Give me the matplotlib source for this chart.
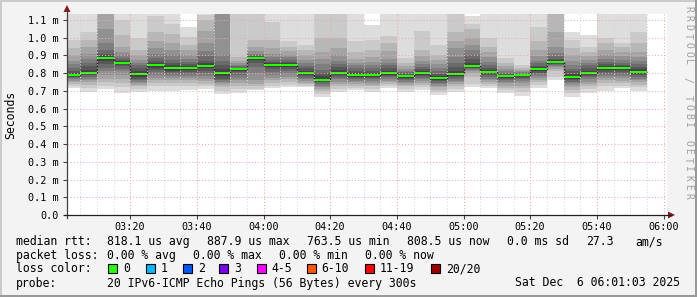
import matplotlib
matplotlib.use('Agg')
import matplotlib.pyplot as plt
from matplotlib.patches import Rectangle, Polygon
import numpy as np

# ---------------- data ----------------
# end timestamp of each 5-minute smokeping bar
bar_end = ['03:05', '03:10', '03:15', '03:20', '03:25', '03:30', '03:35', '03:40',
           '03:45', '03:50', '03:55', '04:00', '04:05', '04:10', '04:15', '04:20',
           '04:25', '04:30', '04:35', '04:40', '04:45', '04:50', '04:55', '05:00',
           '05:05', '05:10', '05:15', '05:20', '05:25', '05:30', '05:35', '05:40',
           '05:45', '05:50', '05:55']

# median rtt per bar (ms)
median_ms = [0.790, 0.803, 0.8879, 0.859, 0.795, 0.846, 0.829, 0.829, 0.840, 0.803,
             0.823, 0.886, 0.848, 0.848, 0.803, 0.7635, 0.803, 0.790, 0.790, 0.803,
             0.784, 0.803, 0.773, 0.795, 0.840, 0.808, 0.784, 0.791, 0.823, 0.863,
             0.780, 0.803, 0.829, 0.829, 0.8085]

# 20 sorted ping rtts per bar (ms); 1.2 = above the visible range
pings_ms = [
    [0.716, 0.727, 0.738, 0.748, 0.757, 0.765, 0.772, 0.778, 0.784, 0.788, 0.792, 0.800, 0.815, 0.830, 0.850, 0.870, 0.900, 0.940, 0.990, 1.2],
    [0.695, 0.715, 0.735, 0.748, 0.760, 0.770, 0.780, 0.788, 0.795, 0.800, 0.806, 0.820, 0.840, 0.860, 0.880, 0.910, 0.950, 0.990, 1.030, 1.2],
    [0.710, 0.730, 0.750, 0.770, 0.790, 0.810, 0.830, 0.850, 0.870, 0.885, 0.891, 0.897, 0.910, 0.930, 0.970, 1.050, 1.2, 1.2, 1.2, 1.2],
    [0.690, 0.720, 0.745, 0.770, 0.790, 0.810, 0.825, 0.840, 0.850, 0.857, 0.861, 0.866, 0.875, 0.885, 0.900, 0.920, 0.950, 1.015, 1.100, 1.2],
    [0.694, 0.710, 0.725, 0.735, 0.745, 0.752, 0.760, 0.770, 0.780, 0.792, 0.798, 0.810, 0.830, 0.845, 0.860, 0.875, 0.900, 0.930, 1.000, 1.2],
    [0.700, 0.725, 0.745, 0.760, 0.775, 0.790, 0.805, 0.820, 0.832, 0.842, 0.850, 0.860, 0.870, 0.885, 0.910, 0.940, 0.980, 1.030, 1.120, 1.2],
    [0.700, 0.725, 0.745, 0.760, 0.772, 0.785, 0.795, 0.805, 0.815, 0.825, 0.833, 0.845, 0.857, 0.875, 0.900, 0.930, 0.970, 1.020, 1.080, 1.2],
    [0.705, 0.728, 0.745, 0.762, 0.775, 0.785, 0.795, 0.808, 0.818, 0.826, 0.832, 0.840, 0.850, 0.865, 0.880, 0.900, 0.930, 0.960, 1.006, 1.059],
    [0.709, 0.725, 0.740, 0.755, 0.770, 0.785, 0.800, 0.815, 0.828, 0.837, 0.843, 0.855, 0.870, 0.895, 0.925, 0.970, 1.040, 1.100, 1.130, 1.2],
    [0.680, 0.700, 0.720, 0.735, 0.745, 0.752, 0.760, 0.770, 0.785, 0.798, 0.808, 0.825, 0.845, 0.870, 0.900, 1.2, 1.2, 1.2, 1.2, 1.2],
    [0.690, 0.710, 0.730, 0.745, 0.760, 0.775, 0.790, 0.805, 0.815, 0.821, 0.825, 0.828, 0.832, 0.838, 0.845, 0.855, 0.870, 0.890, 1.150, 1.2],
    [0.705, 0.713, 0.725, 0.740, 0.760, 0.800, 0.835, 0.860, 0.875, 0.883, 0.889, 0.892, 0.895, 0.900, 0.910, 0.925, 0.950, 0.987, 1.2, 1.2],
    [0.716, 0.730, 0.745, 0.760, 0.775, 0.790, 0.805, 0.822, 0.835, 0.845, 0.851, 0.857, 0.865, 0.875, 0.890, 0.910, 0.940, 0.990, 1.090, 1.2],
    [0.720, 0.735, 0.750, 0.765, 0.780, 0.795, 0.810, 0.822, 0.835, 0.845, 0.851, 0.857, 0.865, 0.875, 0.890, 0.905, 0.925, 0.950, 0.980, 1.2],
    [0.722, 0.730, 0.738, 0.745, 0.755, 0.765, 0.775, 0.785, 0.793, 0.800, 0.806, 0.815, 0.830, 0.840, 0.855, 0.875, 0.900, 0.930, 0.960, 1.2],
    [0.667, 0.685, 0.700, 0.710, 0.720, 0.730, 0.740, 0.748, 0.755, 0.761, 0.766, 0.785, 0.800, 0.820, 0.850, 0.880, 0.920, 1.000, 1.140, 1.2],
    [0.695, 0.710, 0.725, 0.740, 0.752, 0.765, 0.775, 0.785, 0.793, 0.800, 0.806, 0.820, 0.835, 0.850, 0.870, 0.900, 0.940, 1.000, 1.150, 1.2],
    [0.705, 0.718, 0.730, 0.740, 0.748, 0.757, 0.765, 0.772, 0.780, 0.787, 0.793, 0.803, 0.815, 0.830, 0.845, 0.860, 0.880, 0.920, 0.980, 1.2],
    [0.695, 0.710, 0.725, 0.735, 0.745, 0.755, 0.765, 0.772, 0.780, 0.787, 0.793, 0.803, 0.815, 0.830, 0.845, 0.865, 0.890, 0.930, 0.990, 1.070],
    [0.714, 0.727, 0.738, 0.748, 0.758, 0.768, 0.777, 0.785, 0.792, 0.800, 0.806, 0.815, 0.830, 0.845, 0.860, 0.880, 0.925, 0.970, 1.010, 1.2],
    [0.695, 0.712, 0.725, 0.735, 0.745, 0.752, 0.760, 0.768, 0.775, 0.781, 0.787, 0.792, 0.797, 0.805, 0.815, 0.825, 0.840, 0.860, 0.885, 1.2],
    [0.705, 0.720, 0.735, 0.745, 0.755, 0.765, 0.775, 0.783, 0.792, 0.800, 0.806, 0.812, 0.822, 0.835, 0.850, 0.870, 0.895, 0.930, 1.040, 1.2],
    [0.677, 0.693, 0.707, 0.720, 0.730, 0.740, 0.747, 0.755, 0.763, 0.770, 0.776, 0.785, 0.795, 0.810, 0.830, 0.850, 0.875, 0.905, 0.960, 1.2],
    [0.695, 0.710, 0.725, 0.737, 0.748, 0.758, 0.768, 0.777, 0.785, 0.792, 0.798, 0.815, 0.835, 0.860, 0.890, 0.940, 0.980, 1.030, 1.150, 1.2],
    [0.720, 0.740, 0.780, 0.800, 0.812, 0.820, 0.826, 0.831, 0.834, 0.837, 0.843, 0.860, 0.880, 0.900, 0.930, 0.960, 1.000, 1.050, 1.080, 1.120],
    [0.716, 0.728, 0.740, 0.750, 0.760, 0.770, 0.780, 0.788, 0.797, 0.805, 0.811, 0.820, 0.830, 0.845, 0.865, 0.890, 0.920, 0.950, 1.000, 1.2],
    [0.688, 0.703, 0.718, 0.730, 0.742, 0.752, 0.760, 0.768, 0.775, 0.781, 0.787, 0.790, 0.796, 0.803, 0.812, 0.825, 0.840, 0.860, 0.885, 1.2],
    [0.672, 0.695, 0.715, 0.730, 0.745, 0.755, 0.765, 0.775, 0.782, 0.788, 0.794, 0.795, 0.797, 0.800, 0.805, 0.810, 0.818, 0.830, 0.846, 1.2],
    [0.716, 0.732, 0.748, 0.762, 0.775, 0.785, 0.795, 0.803, 0.812, 0.820, 0.826, 0.833, 0.843, 0.855, 0.870, 0.895, 0.930, 0.980, 1.060, 1.2],
    [0.762, 0.780, 0.810, 0.825, 0.835, 0.840, 0.845, 0.850, 0.855, 0.860, 0.866, 0.873, 0.882, 0.895, 0.915, 0.950, 1.034, 1.2, 1.2, 1.2],
    [0.668, 0.688, 0.705, 0.720, 0.732, 0.742, 0.752, 0.762, 0.770, 0.777, 0.783, 0.795, 0.810, 0.825, 0.845, 0.870, 0.900, 0.940, 0.990, 1.034],
    [0.690, 0.708, 0.725, 0.740, 0.753, 0.765, 0.776, 0.785, 0.793, 0.800, 0.806, 0.815, 0.830, 0.845, 0.860, 0.875, 0.895, 0.920, 0.950, 1.015],
    [0.700, 0.725, 0.745, 0.760, 0.772, 0.785, 0.797, 0.808, 0.818, 0.826, 0.832, 0.840, 0.850, 0.865, 0.880, 0.900, 0.930, 0.970, 0.998, 1.2],
    [0.716, 0.730, 0.745, 0.758, 0.772, 0.785, 0.797, 0.808, 0.818, 0.826, 0.832, 0.838, 0.848, 0.860, 0.875, 0.895, 0.920, 0.945, 0.970, 1.2],
    [0.700, 0.720, 0.735, 0.748, 0.760, 0.770, 0.780, 0.790, 0.798, 0.8055, 0.8115, 0.822, 0.835, 0.850, 0.870, 0.890, 0.920, 0.970, 1.030, 1.2],
]

y_ticks = [0.0, 0.1, 0.2, 0.3, 0.4, 0.5, 0.6, 0.7, 0.8, 0.9, 1.0, 1.1]
y_tick_labels = ['0.0', '0.1 m', '0.2 m', '0.3 m', '0.4 m', '0.5 m', '0.6 m',
                 '0.7 m', '0.8 m', '0.9 m', '1.0 m', '1.1 m']
x_tick_labels = ['03:20', '03:40', '04:00', '04:20', '04:40', '05:00', '05:20', '05:40', '06:00']
start_time = '03:01:03'
end_time = '06:01:03'

loss_labels = ['0', '1', '2', '3', '4-5', '6-10', '11-19', '20/20']
loss_colors = ['#26ff00', '#00b8ff', '#0059ff', '#7e00ff', '#ff00ff', '#ff5500', '#ff0000', '#a10000']

stats_rtt = ['818.1 us avg', '887.9 us max', '763.5 us min', '808.5 us now', '0.0 ms sd', '27.3', 'am/s']
stats_loss = ['0.00 % avg', '0.00 % max', '0.00 % min', '0.00 % now']
probe_text = '20 IPv6-ICMP Echo Pings (56 Bytes) every 300s'
date_text = 'Sat Dec  6 06:01:03 2025'
watermark = 'RRDTOOL / TOBI OETIKER'


def to_min(s):
    parts = [int(p) for p in s.split(':')]
    sec = parts[2] if len(parts) > 2 else 0
    return (parts[0] - 3) * 60 + parts[1] + sec / 60.0


# ---------------- figure ----------------
W, H = 697, 297
fig = plt.figure(figsize=(W / 100, H / 100), dpi=100, facecolor='#f3f3f3')
MONO = 'DejaVu Sans Mono'

L, R, T, B = 67, 667, 14, 215
ax = fig.add_axes([L / W, 1 - B / H, (R - L) / W, (B - T) / H])
ax.set_facecolor('white')
xmin, xmax = to_min(start_time), to_min(end_time)
ax.set_xlim(xmin, xmax)
ytop = 1.1 * (B - T) / (B - 20)
ax.set_ylim(0, ytop)
for s in ax.spines.values():
    s.set_visible(False)

ends = np.array([to_min(t) for t in bar_end])
edges = np.concatenate([[ends[0] - 5], ends])
P = np.array(pings_ms)
npings = P.shape[1]
half = npings // 2
for i in range(1, half + 1):
    c = int(190 / half * (half - i)) + 50
    col = '#%02x%02x%02x' % (c, c, c)
    ax.stairs(P[:, npings - i], edges, baseline=P[:, i - 1], fill=True,
              color=col, linewidth=0, zorder=2)

med = np.array(median_ms)
px = ytop / (B - T)
ax.stairs(med, edges, baseline=None, color='#202020', linewidth=0.9, zorder=3)
ax.stairs(med + px, edges, baseline=med - px, fill=True, color=loss_colors[0],
          linewidth=0, zorder=4)

# grid (drawn above the data as rrdtool does)
xt = [to_min(t) for t in x_tick_labels]
for m in np.arange(5, xmax, 5):
    if any(abs(m - t) < 1e-6 for t in xt):
        continue
    ax.axvline(m, color='#d8d8d8', lw=0.75, linestyle=(0, (1, 2)), zorder=5)
for t in xt:
    ax.axvline(t, color='#eeaaaa', lw=0.75, linestyle=(0, (1, 2)), zorder=5)
for y in y_ticks[1:]:
    ax.axhline(y, color='#eeaaaa', lw=0.75, linestyle=(0, (1, 2)), zorder=5)

ax.set_yticks(y_ticks)
ax.set_yticklabels(y_tick_labels, family=MONO, fontsize=7.3)
ax.set_xticks(xt)
ax.set_xticklabels(x_tick_labels, family=MONO, fontsize=7.3)
ax.tick_params(axis='y', length=3, width=0.75, color='#404040', pad=3)
ax.tick_params(axis='x', length=3, width=0.75, color='#404040', pad=2)

# ---------------- overlay (pixel coordinates) ----------------
ov = fig.add_axes([0, 0, 1, 1], facecolor='none')
ov.set_xlim(0, W)
ov.set_ylim(H, 0)
ov.axis('off')

# borders
ov.add_patch(Rectangle((0, 0), W, 2, color='#cbcbcb', lw=0))
ov.add_patch(Rectangle((0, 0), 2, H, color='#cbcbcb', lw=0))
ov.add_patch(Rectangle((0, H - 2), W, 2, color='#999999', lw=0))
ov.add_patch(Rectangle((W - 2, 0), 2, H, color='#999999', lw=0))

# axes with arrows
ov.plot([L, L], [B + 3, 10], color='#404040', lw=0.9)
ov.plot([L - 3, 671], [B, B], color='#202020', lw=0.9)
ov.add_patch(Polygon([[L - 3.5, 12], [L + 3.5, 12], [L, 5]], closed=True, color='#8b1a1a', lw=0))
ov.add_patch(Polygon([[668, B - 3.5], [668, B + 3.5], [675, B]], closed=True, color='#8b1a1a', lw=0))

ov.text(11, 115, 'Seconds', rotation=90, family=MONO, fontsize=8.3, ha='center', va='center')
for k, ch in enumerate(watermark):
    ov.text(688, 9 + k * 8.9, ch, rotation=270, family=MONO, fontsize=7.0,
            color='#a0a0a0', ha='center', va='center')

fs = 8.3
rows = [245.3, 258.8, 272.5, 286.5]
ov.text(16, rows[0], 'median rtt:', family=MONO, fontsize=fs, va='baseline')
for s, x in zip(stats_rtt, [107, 207, 306.7, 407.3, 506.7, 586, 635.7]):
    ov.text(x, rows[0], s, family=MONO, fontsize=fs, va='baseline')
ov.text(16, rows[1], 'packet loss:', family=MONO, fontsize=fs, va='baseline')
for s, x in zip(stats_loss, [107, 193.3, 279.3, 365]):
    ov.text(x, rows[1], s, family=MONO, fontsize=fs, va='baseline')
ov.text(16, rows[2], 'loss color:', family=MONO, fontsize=fs, va='baseline')
for lab, col, x in zip(loss_labels, loss_colors, [108.3, 145.7, 182.7, 219.3, 256.7, 306.7, 365, 430.7]):
    ov.add_patch(Rectangle((x, rows[2] - 8.5), 9, 9, facecolor=col, edgecolor='black', lw=0.8))
    ov.text(x + 15, rows[2], lab, family=MONO, fontsize=fs, va='baseline')
ov.text(16, rows[3], 'probe:', family=MONO, fontsize=fs, va='baseline')
ov.text(107, rows[3], probe_text, family=MONO, fontsize=fs, va='baseline')
ov.text(680, rows[3], date_text, family=MONO, fontsize=fs, va='baseline', ha='right')

fig.savefig('out.png', dpi=100, facecolor=fig.get_facecolor())
